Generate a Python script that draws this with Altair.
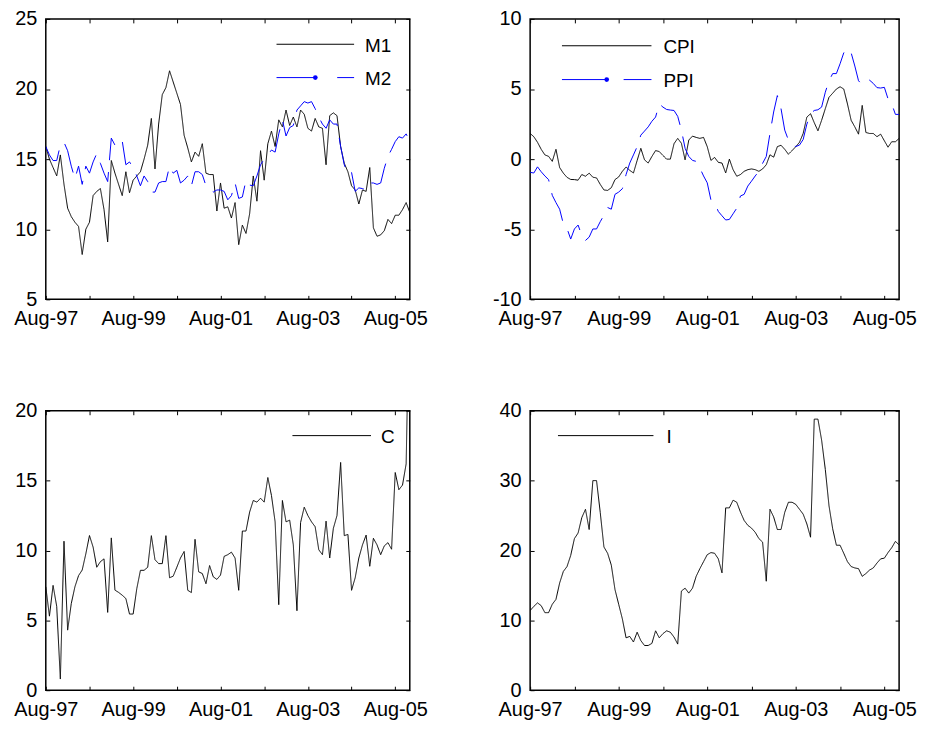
import altair as alt
import pandas as pd

# monthly observations, Aug-97 (index 0) ... Dec-05 (index 100)
months = list(range(101))
tick_months = [0, 12, 24, 36, 48, 60, 72, 84, 96]
tick_labels = ["Aug-97", "", "Aug-99", "", "Aug-01", "", "Aug-03", "", "Aug-05"]

m1 = [15.9, 15.0, 14.4, 13.8, 15.3, 13.2, 11.5, 10.9, 10.5, 10.2,
      8.2, 10.0, 10.5, 12.4, 12.7, 12.9, 11.4, 9.1, 14.9, 14.0,
      13.2, 12.4, 14.1, 12.6, 13.5, 13.8, 14.1, 15.0, 16.0, 17.9,
      14.3, 17.5, 19.6, 20.1, 21.3, 20.5, 19.7, 18.9, 16.7, 15.8,
      14.8, 15.5, 15.2, 16.1, 14.0, 13.9, 13.9, 11.3, 13.3, 11.5,
      11.6, 10.8, 11.9, 8.9, 10.3, 9.7, 11.1, 13.8, 12.0, 15.6,
      13.5, 16.1, 17.0, 15.9, 17.8, 17.3, 18.5, 17.4, 18.0, 17.3,
      18.5, 18.2, 17.2, 17.0, 17.9, 17.3, 17.2, 14.6, 18.1, 18.3,
      18.1, 15.9, 14.7, 14.1, 13.1, 12.8, 11.8, 12.8, 12.7, 14.4,
      10.1, 9.5, 9.6, 9.9, 10.7, 10.4, 11.0, 11.0, 11.4, 11.9,
      11.2]
m2 = [15.9, 15.3, 14.9, 14.9, 16.0, 16.2, 15.6, 14.5, 13.6, 14.5,
      13.2, 14.5, 14.0, 14.8, 15.4, 14.7, 14.0, 13.4, 16.5, 16.0,
      15.9, 16.3, 14.6, 14.8, 14.4, 13.8, 13.1, 13.8, 13.4, 12.65,
      12.65, 13.3, 13.4, 13.4, 14.5, 14.0, 14.2, 13.3, 13.5, 13.8,
      13.1, 14.1, 14.1, 13.9, 13.1, 12.9, 12.65, 12.8, 12.8, 12.7,
      12.1, 12.4, 13.3, 12.2, 12.3, 13.5, 13.15, 13.1, 13.8, 14.6,
      15.0, 15.3, 15.65, 15.5, 16.8, 17.8, 16.65, 17.25, 17.4, 18.5,
      18.8, 19.1, 19.0, 19.1, 18.6, 18.0, 17.5, 17.2, 17.8, 17.5,
      17.5, 15.9, 14.6, 13.9, 14.05, 12.7, 12.95, 12.9, 12.8, 13.3,
      13.3, 13.2, 13.3, 14.35, 15.2, 15.7, 16.25, 16.6, 16.5, 16.8,
      16.25]
cpi = [1.83, 1.6, 1.2, 0.7, 0.3, 0.2, -0.16, 0.7, -0.6, -1.0,
       -1.3, -1.45, -1.46, -1.5, -1.1, -1.22, -1.0, -1.29, -1.34, -1.8,
       -2.2, -2.23, -2.04, -1.46, -1.27, -0.87, -0.56, -0.8, -0.99, -0.1,
       0.77, -0.05, -0.28, 0.19, 0.61, 0.54, 0.26, 0.0, 0.0, 1.1,
       1.48, 1.13, -0.05, 1.36, 1.64, 1.55, 1.48, 1.55, 0.89, -0.09,
       0.12, -0.23, -0.28, -0.99, 0.0, -0.75, -1.22, -1.1, -0.87, -0.75,
       -0.7, -0.75, -0.87, -0.7, -0.4, 0.31, 0.14, 0.89, 0.99, 0.7,
       0.35, 0.61, 0.89, 1.2, 1.83, 3.0, 3.24, 2.6, 2.02, 2.77,
       3.6, 4.41, 4.7, 5.0, 5.16, 5.0, 3.94, 2.77, 2.3, 1.78,
       3.83, 1.9, 1.83, 1.83, 1.6, 1.78, 1.31, 0.85, 1.24, 1.24,
       1.48]
ppi = [-0.94, -0.99, -0.55, -0.9, -1.2, -1.46, -2.58, -3.1, -3.57, -4.62,
       -4.95, -5.7, -4.98, -4.7, -5.45, -5.8, -5.56, -4.98, -4.98, -4.46,
       -4.0, -3.45, -3.57, -2.51, -2.35, -2.11, -1.1, -0.28, 0.3, 0.89,
       1.71, 2.0, 2.3, 2.7, 3.0, 3.94, 3.71, 3.54, 3.5, 3.47,
       3.05, 2.07, 0.77, 0.19, -0.09, -0.16, -0.63, -1.2, -1.69, -2.91,
       -3.1, -3.73, -4.04, -4.34, -4.3, -3.9, -3.5, -2.63, -2.51, -1.92,
       -1.57, -1.2, -0.87, -0.3, 0.19, 1.83, 3.36, 4.53, 3.59, 2.07,
       1.36, 1.0, 0.9, 1.0, 1.4, 2.5, 3.24, 3.47, 3.52, 3.71,
       4.77, 5.59, 6.1, 6.1, 6.8, 7.58, 7.9, 7.58, 6.64, 5.59,
       5.3, 5.4, 5.63, 5.4, 5.1, 5.07, 5.12, 4.3, 3.94, 3.19,
       3.19]
c_vals = [7.4, 5.3, 7.5, 6.0, 0.8, 10.66, 4.3, 6.2, 7.4, 8.2,
          8.6, 9.76, 11.07, 10.24, 8.8, 9.2, 9.4, 5.57, 10.9, 7.16,
          7.0, 6.8, 6.56, 5.45, 5.45, 7.27, 8.58, 8.58, 8.8, 11.06,
          9.34, 9.06, 9.06, 11.06, 8.05, 8.16, 8.8, 9.46, 9.93, 7.15,
          6.99, 10.8, 8.47, 8.35, 7.62, 8.92, 8.12, 7.93, 8.24, 9.58,
          9.7, 9.88, 9.46, 7.15, 11.39, 11.39, 12.75, 13.58, 13.46, 13.74,
          13.46, 15.22, 13.93, 12.05, 6.12, 13.58, 12.05, 12.17, 10.4, 5.69,
          12.0, 13.1, 12.5, 12.05, 11.7, 10.05, 9.7, 12.1, 9.46, 11.58,
          12.5, 16.3, 11.06, 11.15, 7.15, 8.05, 9.46, 10.4, 11.1, 8.87,
          10.87, 10.4, 9.7, 10.33, 10.56, 10.09, 15.58, 14.35, 14.68, 16.2,
          30.0]
i_vals = [11.4, 12.0, 12.5, 12.1, 11.1, 11.1, 12.3, 13.0, 15.35, 17.0,
          17.7, 19.3, 21.7, 22.5, 24.7, 25.9, 23.0, 30.0, 30.0, 25.45,
          20.5, 19.6, 17.9, 14.4, 12.3, 10.2, 7.5, 7.7, 6.9, 8.3,
          7.1, 6.4, 6.4, 6.7, 8.5, 7.5, 8.1, 8.5, 8.3, 7.6,
          6.6, 14.2, 14.6, 13.9, 14.6, 16.3, 17.4, 18.4, 19.4, 19.7,
          19.6, 18.8, 16.8, 26.1, 26.1, 27.2, 26.9, 25.5, 24.3, 23.6,
          23.2, 22.6, 21.7, 21.2, 15.6, 25.9, 24.8, 23.0, 23.0, 25.45,
          26.9, 26.9, 26.6, 25.9, 25.2, 23.8, 21.9, 38.8, 38.8, 35.8,
          31.6, 26.4, 23.1, 20.75, 20.75, 19.6, 18.4, 17.7, 17.5, 17.4,
          16.3, 16.7, 17.2, 17.5, 18.2, 18.8, 18.9, 19.7, 20.4, 21.3,
          20.8]

FONT = "Liberation Sans"
FS = 20
LEG_FS = 19
BLUE = "#0000ff"
x_label_expr = "[" + ",".join("'%s'" % t for t in tick_labels) + "][round(datum.value / 12)]"


def legend_layers(entries, x0, x1, tx):
    """entries: (name, color, dash, y, dot) -> in-plot legend drawn like the original."""
    layers = []
    for name, color, dash, y, dot in entries:
        src = pd.DataFrame({"series": [name]})
        rule_kw = dict(color=color, strokeWidth=1)
        if dash:
            rule_kw["strokeDash"] = dash
        layers.append(alt.Chart(src).mark_rule(**rule_kw).encode(
            x=alt.value(x0), x2=alt.value(x1), y=alt.value(y)))
        if dot:
            layers.append(alt.Chart(src).mark_circle(color=color, size=22, opacity=1).encode(
                x=alt.value((x0 + x1) / 2), y=alt.value(y)))
        layers.append(alt.Chart(src).mark_text(
            align="left", baseline="middle", font=FONT, fontSize=LEG_FS, color="black"
        ).encode(text="series:N", x=alt.value(tx), y=alt.value(y + 1.5)))
    return layers


def panel(series, colors, dashes, ydom, yticks, w, h, leg):
    rows = []
    for name, vals in series:
        for m, v in zip(months, vals):
            rows.append({"month": m, "value": v, "series": name})
    df = pd.DataFrame(rows)
    names = [n for n, _ in series]
    lines = alt.Chart(df).mark_line(strokeWidth=1, clip=True).encode(
        x=alt.X("month:Q",
                scale=alt.Scale(domain=[0, 100], nice=False, zero=False),
                axis=alt.Axis(values=tick_months, labelExpr=x_label_expr, title=None,
                              grid=True, gridDash=[4, h - 8, 4], gridColor="black",
                              gridOpacity=1, gridWidth=1, ticks=False, tickSize=0,
                              domain=False, labelPadding=9, labelFont=FONT,
                              labelFontSize=FS, labelColor="black", labelFlush=False,
                              labelOverlap=False)),
        y=alt.Y("value:Q",
                scale=alt.Scale(domain=ydom, nice=False, zero=False),
                axis=alt.Axis(values=yticks, labelExpr="'' + datum.value", title=None,
                              grid=True, gridDash=[4, w - 8, 4], gridColor="black",
                              gridOpacity=1, gridWidth=1, ticks=False, tickSize=0,
                              domain=False, labelPadding=9, labelFont=FONT,
                              labelFontSize=FS, labelColor="black", labelFlush=False,
                              labelOverlap=False)),
        color=alt.Color("series:N", scale=alt.Scale(domain=names, range=colors), legend=None),
        strokeDash=alt.StrokeDash("series:N", scale=alt.Scale(domain=names, range=dashes), legend=None),
    )
    return alt.layer(lines, *leg).properties(width=w, height=h)


H1, H2 = 282, 281

p1 = panel([("M1", m1), ("M2", m2)], ["black", BLUE], [[1, 0], [30, 12]],
           [5, 25], [5, 10, 15, 20, 25], 366, H1,
           legend_layers([("M1", "black", None, 25.5, False),
                          ("M2", BLUE, [40, 21], 59, True)], 232, 310, 321))
p2 = panel([("CPI", cpi), ("PPI", ppi)], ["black", BLUE], [[1, 0], [30, 12]],
           [-10, 10], [-10, -5, 0, 5, 10], 371, H1,
           legend_layers([("CPI", "black", None, 27, False),
                          ("PPI", BLUE, [45, 17], 61, True)], 32, 122, 134))
p3 = panel([("C", c_vals)], ["black"], [[1, 0]],
           [0, 20], [0, 5, 10, 15, 20], 366, H2,
           legend_layers([("C", "black", None, 25, False)], 248, 327, 337))
p4 = panel([("I", i_vals)], ["black"], [[1, 0]],
           [0, 40], [0, 10, 20, 30, 40], 371, H2,
           legend_layers([("I", "black", None, 25, False)], 28, 124, 137))

chart = alt.concat(
    p1, p2, p3, p4, columns=2, spacing={"row": 112, "column": 121},
    bounds="flush", align="each",
).resolve_scale(
    color="independent", strokeDash="independent", x="independent", y="independent"
).properties(
    padding={"left": 5, "top": -2, "right": 0, "bottom": 0},
    background="white",
).configure_view(
    stroke="black", strokeWidth=1.5
)

chart.save("out.html", embed_options={"renderer": "svg", "actions": False})
